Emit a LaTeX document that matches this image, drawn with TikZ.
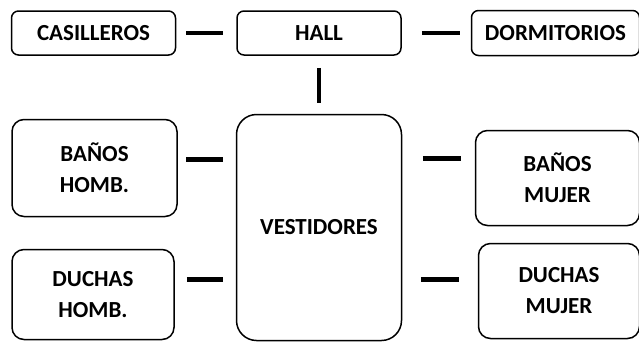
\documentclass[tikz,border=0pt]{standalone}
\usepackage{fontspec}
\setmainfont{Carlito}
\usetikzlibrary{positioning}

\begin{document}
\begin{tikzpicture}[x=1pt, y=-1pt,
    roombox/.style={rectangle, draw=black, line width=1.5pt, fill=white, rounded corners=7pt, align=center, inner sep=0pt, font=\fontsize{23}{31}\selectfont\bfseries},
    link/.style={draw, line width=4.5pt}]
    \useasboundingbox (0,0) rectangle (639,341);

    \node [roombox, minimum width=164pt, minimum height=44pt] (hall) at (319,33) {HALL};
    \node [roombox, minimum width=164pt, minimum height=44pt, left=60pt of hall] (casilleros) {CASILLEROS};
    \node [roombox, minimum width=168pt, minimum height=45pt, right=69pt of hall] (dormitorios) {DORMITORIOS};
    \node [roombox, minimum width=165pt, minimum height=226pt, rounded corners=20pt, below=58pt of hall] (vestidores) {VESTIDORES};

    \node [roombox, minimum width=165pt, minimum height=97pt, rounded corners=12pt, anchor=north east] (banoshomb) at ([xshift=-58pt, yshift=-5pt]vestidores.north west) {BAÑOS\\HOMB.};
    \node [roombox, minimum width=162pt, minimum height=90pt, rounded corners=12pt, anchor=south east] (duchashomb) at ([xshift=-61pt, yshift=1pt]vestidores.south west) {DUCHAS\\HOMB.};
    \node [roombox, minimum width=164pt, minimum height=95pt, rounded corners=12pt, anchor=north west] (banosmujer) at ([xshift=72.5pt, yshift=-16pt]vestidores.north east) {BAÑOS\\MUJER};
    \node [roombox, minimum width=161pt, minimum height=95pt, rounded corners=12pt, anchor=south west] (duchasmujer) at ([xshift=75.5pt, yshift=2pt]vestidores.south east) {DUCHAS\\MUJER};

    % short links, not touching the boxes
    \path [link, shorten <=10pt, shorten >=13pt] (casilleros) -- (hall);
    \path [link, shorten <=20pt, shorten >=11pt] (hall) -- (dormitorios);
    \path [link, shorten <=12pt, shorten >=11pt] (hall) -- (vestidores.north);

    \coordinate (bhlink) at ([yshift=8.5pt]banoshomb.east);
    \coordinate (dhlink) at ([yshift=15pt]duchashomb.east);
    \coordinate (bmlink) at ([yshift=19.5pt]banosmujer.west);
    \coordinate (dmlink) at ([yshift=11.5pt]duchasmujer.west);
    \path [link, shorten <=8.5pt, shorten >=12.5pt] (bhlink) -- (bhlink -| vestidores.west);
    \path [link, shorten <=12pt, shorten >=12.5pt] (dhlink) -- (dhlink -| vestidores.west);
    \path [link, shorten <=20.5pt, shorten >=14pt] (bmlink -| vestidores.east) -- (bmlink);
    \path [link, shorten <=18.5pt, shorten >=19pt] (dmlink -| vestidores.east) -- (dmlink);
\end{tikzpicture}
\end{document}
